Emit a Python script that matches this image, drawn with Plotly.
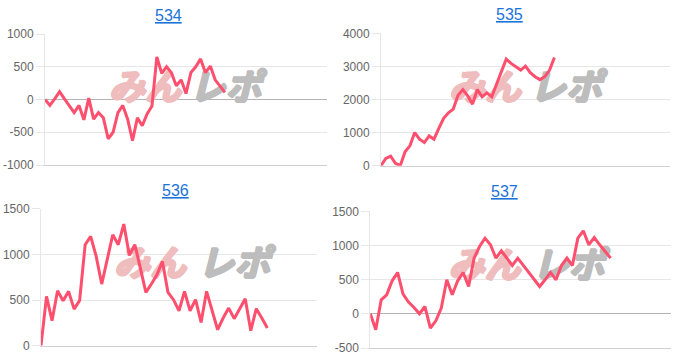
import plotly.graph_objects as go

# ---- data ----
titles = ["534", "535", "536", "537"]

s534 = [0, -90, 10, 120, 10, -90, -200, -90, -310, 20, -300, -200, -280, -600,
        -500, -200, -90, -300, -630, -280, -400, -220, -100, 650, 400, 500, 410,
        210, 300, 90, 410, 500, 620, 410, 510, 300, 200, 110]

s535 = [0, 220, 290, 70, 0, 420, 600, 1000, 800, 700, 900, 800, 1130, 1430,
        1600, 1710, 2130, 2300, 2110, 1860, 2300, 2080, 2200, 2080, 2470, 2830,
        3220, 3090, 2990, 2890, 3010, 2810, 2690, 2600, 2690, 2890, 3270]

s536 = [0, 540, 274, 602, 493, 595, 401, 496, 1106, 1197, 978, 675, 945, 1215,
        1106, 1332, 989, 1106, 850, 584, 675, 777, 923, 584, 504, 383, 595, 383,
        504, 255, 595, 376, 175, 303, 412, 296, 405, 515, 164, 405, 303, 193]

s537 = [0, -234, 205, 278, 483, 605, 288, 171, 93, 0, 107, -210, -102, 83, 498,
        278, 483, 605, 400, 815, 985, 1107, 1010, 815, 922, 815, 707, 815, 707,
        605, 498, 400, 498, 605, 498, 707, 815, 707, 1107, 1215, 1010, 1117,
        1010, 912, 815]

series = [s534, s535, s536, s537]

x_spans = [58, 60, 50, 55]
y_ranges = [(-1000, 1000), (0, 4000), (0, 1500), (-500, 1500)]
y_ticks = [
    [-1000, -500, 0, 500, 1000],
    [0, 1000, 2000, 3000, 4000],
    [0, 500, 1000, 1500],
    [-500, 0, 500, 1000, 1500],
]
y_ticktext = [[str(v) for v in t] for t in y_ticks]

# ---- layout geometry (pixels in a 676x357 page) ----
W, H = 676, 357
plot_boxes = [  # left, right, top, bottom
    (45, 327, 34, 165),
    (381, 670, 33.3, 165.7),
    (41, 317, 208.7, 345.7),
    (370.3, 670.7, 211.3, 348),
]
title_pos = [(168, 16), (509, 15), (175, 190), (504, 191)]
logo_pos = [  # fraction of plot area for centre of pink / grey parts, vertical
    (0.355, 0.64, 0.565),
    (0.36, 0.64, 0.565),
    (0.395, 0.70, 0.575),
    (0.38, 0.66, 0.575),
]

LINE = "#ff4f6e"
GRID = "#e6e6e6"
TICKFONT = dict(family="Liberation Sans, Arial, sans-serif", size=12, color="#666666")
LOGOFONT = "Noto Sans CJK JP"
PINK = "#efbdbd"
GREY = "#bdbdbd"


def thick(c):
    return (f"1px 0px 0px {c}, -1px 0px 0px {c}, 0px 1px 0px {c}, "
            f"0px -1px 0px {c}, 1px 1px 0px {c}, -1px -1px 0px {c}")


fig = go.Figure()
layout = dict(
    width=W, height=H,
    margin=dict(l=0, r=0, t=0, b=0, autoexpand=False),
    paper_bgcolor="white", plot_bgcolor="white",
    showlegend=False,
    annotations=[],
)

for i in range(4):
    n = i + 1
    xa = "x" if n == 1 else f"x{n}"
    ya = "y" if n == 1 else f"y{n}"
    L, R, T, B = plot_boxes[i]
    xspan = x_spans[i]
    y0, y1 = y_ranges[i]

    # watermark (drawn first so it sits under the line)
    pc, gc, vc = logo_pos[i]
    yv = y0 + vc * (y1 - y0)
    fig.add_trace(go.Scatter(
        x=[pc * xspan], y=[yv], mode="text", text=["<b>みん</b>"],
        textfont=dict(family=LOGOFONT, size=36, color=PINK,
                      style="italic", shadow=thick(PINK)),
        xaxis=xa, yaxis=ya, hoverinfo="skip"))
    fig.add_trace(go.Scatter(
        x=[gc * xspan], y=[yv], mode="text", text=["<b>レポ</b>"],
        textfont=dict(family=LOGOFONT, size=36, color=GREY,
                      style="italic", shadow=thick(GREY)),
        xaxis=xa, yaxis=ya, hoverinfo="skip"))

    vals = series[i]
    fig.add_trace(go.Scatter(
        x=list(range(len(vals))), y=vals, mode="lines",
        line=dict(color=LINE, width=3, shape="linear"),
        xaxis=xa, yaxis=ya, hoverinfo="skip"))

    layout["xaxis" if n == 1 else f"xaxis{n}"] = dict(
        domain=[L / W, R / W], range=[0, xspan], anchor=ya, automargin=False,
        showgrid=False, zeroline=False, showticklabels=False, ticks="",
        showline=True, linecolor="#d0d0d0", linewidth=1, fixedrange=True,
    )
    layout["yaxis" if n == 1 else f"yaxis{n}"] = dict(
        domain=[1 - B / H, 1 - T / H], range=[y0, y1], anchor=xa, automargin=False,
        tickvals=y_ticks[i], ticktext=y_ticktext[i],
        showgrid=True, gridcolor=GRID, gridwidth=1,
        zeroline=True, zerolinecolor="#b4b4b4", zerolinewidth=1,
        showline=True, linecolor=GRID, linewidth=1,
        ticks="outside", ticklen=8, tickcolor=GRID,
        tickfont=TICKFONT, fixedrange=True,
    )

    tx, ty = title_pos[i]
    layout["annotations"].append(dict(
        text=f"<u>{titles[i]}</u>", x=tx / W, y=1 - ty / H,
        xref="paper", yref="paper", xanchor="center", yanchor="middle",
        showarrow=False,
        font=dict(family="Liberation Sans, Arial, sans-serif", size=16, color="#1a73d9"),
    ))

fig.update_layout(**layout)
fig.write_html("out.html", config={"displayModeBar": False})
